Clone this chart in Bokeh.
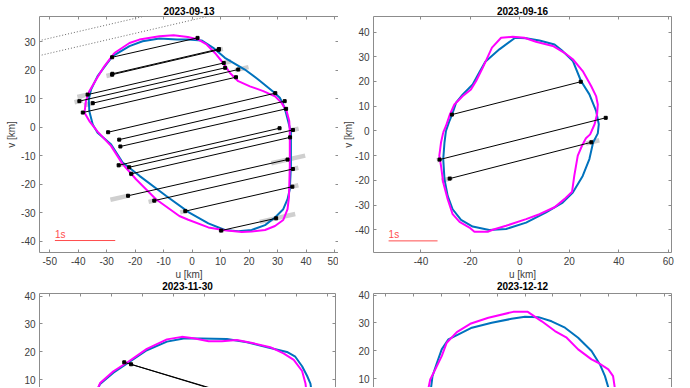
import numpy as np
from bokeh.plotting import figure
from bokeh.layouts import column, row
from bokeh.models import Range1d, LinearAxis, FixedTicker, Label
from bokeh.embed import file_html
from bokeh.resources import INLINE

# ---------------- data ----------------
titles = ["2023-09-13", "2023-09-16", "2023-11-30", "2023-12-12"]
x_axis_label = "u [km]"
y_axis_label = "v [km]"
scale_label = "1s"

# ---- panel 1 : 2023-09-13 ----
p1_xticks = [-50, -40, -30, -20, -10, 0, 10, 20, 30, 40, 50]
p1_xtick_labels = ["-50", "-40", "-30", "-20", "-10", "0", "10", "20", "30", "40", "50"]
p1_yticks = [-40, -30, -20, -10, 0, 10, 20, 30]
p1_ytick_labels = ["-40", "-30", "-20", "-10", "0", "10", "20", "30"]
p1_blue_u = [-27.9, -22.0, -17.4, -11.5, -5.3, -1.35, 3.3, 7.4, 11.5, 18.5, 23.2, 28.5, 30.8, 32.0, 32.8,
             33.7, 34.7, 34.7, 34.3, 33.5, 32.0, 29.1, 25.6, 20.9, 16.2, 11.5, 5.7, -1.0, -9.2, -18.5,
             -24.4, -28.5, -33.2, -34.9, -36.1, -36.3, -35.5, -33.2, -30.2, -27.9]
p1_blue_v = [25.0, 28.5, 30.2, 31.2, 30.8, 30.8, 30.5, 27.9, 24.4, 20.3, 16.8, 12.5, 10.4, 8.0, 5.7,
             2.2, -1.8, -13.5, -21.7, -25.2, -28.7, -31.6, -34.3, -36.0, -36.4, -36.0, -33.7, -29.9, -24.0, -17.0,
             -12.3, -5.9, -1.9, 1.0, 5.7, 9.8, 13.3, 18.0, 22.0, 25.0]
p1_mag_u = [-27.3, -22.0, -18.5, -11.5, -6.5, -1.5, 2.2, 5.1, 8.0, 10.4, 13.3, 16.2, 20.3, 25.0, 29.1,
            31.4, 33.2, 34.1, 34.3, 34.3, 34.0, 33.5, 32.0, 29.1, 25.6, 20.9, 17.4, 11.5, 5.7, -1.35,
            -4.5, -12.7, -19.7, -24.4, -28.5, -33.2, -36.1, -37.8, -37.3, -36.1, -33.7, -30.8, -27.3]
p1_mag_v = [26.1, 29.6, 30.8, 32.0, 32.3, 31.7, 30.8, 29.1, 26.1, 23.2, 19.1, 16.2, 14.4, 12.7, 10.9,
            8.6, 5.7, 2.2, -1.3, -13.5, -24.6, -28.7, -32.5, -34.6, -36.0, -36.5, -36.7, -36.1, -35.1, -32.4,
            -31.1, -25.2, -18.2, -12.9, -6.5, -1.5, 2.2, 5.1, 9.2, 12.7, 16.8, 21.5, 26.1]
p1_chord_u1 = [-28.1, -28.1, -28.0, -36.7, -39.6, -34.9, -38.4, -29.5, -25.6, -25.2, -25.8, -22.1, -21.4,
               -22.5, -13.3, -2.4, 10.2]
p1_chord_v1 = [24.6, 18.5, 18.8, 11.5, 9.2, 8.5, 5.2, -1.7, -4.3, -6.7, -13.3, -14.0, -16.3,
               -24.0, -25.7, -29.4, -36.2]
p1_chord_u2 = [1.9, 9.3, 9.4, 11.1, 11.6, 16.2, 15.4, 29.2, 32.5, 33.0, 30.7, 35.4, 34.4,
               33.5, 35.4, 35.2, 29.5]
p1_chord_v2 = [31.4, 27.2, 27.5, 22.6, 20.9, 20.3, 17.6, 12.0, 9.2, 6.5, -0.3, -0.9, -3.5,
               -11.3, -14.6, -20.8, -31.9]
p1_err_chord = [1, 1, 3, 3, 4, 5, 5, 11, 13, 14, 15, 16, 13, 14, 15, 16, 10, 12]
p1_err_u1 = [-30.1, 8.7, -40.3, 11.05, -41.3, -38.0, 15.1, 34.2, 27.8, 34.8, 34.4, 23.8, -28.7, -15.3, -4.2, 9.3, -26.4, -22.0]
p1_err_u2 = [-27.5, 10.8, -36.8, 13.7, -38.5, -34.6, 19.8, 37.4, 39.7, 37.3, 37.3, 36.2, -22.3, -12.3, -1.6, 11.1, -24.4, -20.5]
p1_neg_u1 = [-60.0, -60.0]
p1_neg_v1 = [28.96, 23.7]
p1_neg_u2 = [0.0, 20.0]
p1_neg_v2 = [42.9, 42.3]
p1_scale_u = [-48.2, -27.0]
p1_scale_v = -39.7

# ---- panel 2 : 2023-09-16 ----
p2_xticks = [-40, -20, 0, 20, 40, 60]
p2_xtick_labels = ["-40", "-20", "0", "20", "40", "60"]
p2_yticks = [-40, -30, -20, -10, 0, 10, 20, 30, 40]
p2_ytick_labels = ["-40", "-30", "-20", "-10", "0", "10", "20", "30", "40"]
p2_blue_u = [-29.9, -28.5, -27.4, -25.8, -23.1, -19.1, -16.5, -14.0, -8.3, -1.9, 2.5, 7.9, 14.0, 17.3, 21.4,
             24.7, 28.1, 30.8, 31.9, 31.5, 29.6, 28.1, 25.4, 21.4, 17.3, 10.6, 2.5, -5.6, -12.4, -19.1,
             -23.8, -27.2, -29.2, -30.5, -31.0, -30.5, -29.9]
p2_blue_v = [0.0, 4.0, 6.7, 11.4, 14.8, 18.8, 23.5, 28.0, 33.0, 37.7, 37.5, 36.6, 35.0, 32.3, 28.3,
             20.2, 14.8, 8.1, 2.7, -1.0, -4.7, -11.4, -18.2, -24.9, -29.0, -33.0, -37.1, -39.7, -40.1, -38.7,
             -36.0, -31.7, -26.3, -19.5, -11.4, -4.7, 0.0]
p2_mag_u = [-31.0, -29.9, -28.3, -26.5, -23.1, -19.8, -17.7, -15.0, -11.3, -7.6, -2.9, 1.8, 6.5, 13.3, 18.0,
            21.4, 25.4, 28.8, 30.8, 31.5, 31.2, 30.2, 28.4, 26.7, 25.1, 23.4, 22.0, 21.1, 18.0, 14.0,
            7.9, 2.5, -5.6, -11.0, -13.0, -18.4, -20.4, -24.4, -27.2, -29.2, -31.0, -31.9, -32.6, -31.9, -31.0]
p2_mag_v = [-0.6, 2.0, 6.7, 10.7, 14.1, 16.8, 20.2, 25.6, 33.7, 37.7, 38.1, 37.7, 36.1, 34.4, 31.6,
            29.0, 24.2, 18.2, 14.1, 10.7, 6.7, 2.7, -1.4, -3.0, -6.0, -10.0, -18.1, -24.6, -27.6, -30.9,
            -33.7, -35.7, -38.4, -40.0, -40.8, -40.8, -39.1, -36.8, -33.7, -27.6, -20.9, -14.1, -10.1, -4.7, -0.6]
p2_chord_u1 = [-27.5, -32.5, -28.4]
p2_chord_v1 = [6.6, -11.6, -19.3]
p2_chord_u2 = [24.6, 34.7, 28.9]
p2_chord_v2 = [19.9, 5.3, -4.6]
p2_err_chord = [2, 2, 1]
p2_err_u1 = [-31.7, 26.7, -33.6]
p2_err_u2 = [-27.3, 32.1, -31.6]
p2_scale_u = [-53.1, -33.3]
p2_scale_v = -44.5

# ---- panel 3 : 2023-11-30 (upper part) ----
p3_xticks = [-50, -40, -30, -20, -10, 0, 10, 20, 30, 40]
p3_yticks = [-40, -30, -20, -10, 0, 10, 20, 30, 40]
p3_ytick_labels = ["-40", "-30", "-20", "-10", "0", "10", "20", "30", "40"]
p3_blue_u = [-35.5, -33.6, -29.3, -23.9, -18.5, -12.0, -6.6, -1.2, 7.4, 13.9, 20.4, 26.8, 29.5, 31.7, 33.3, 34.4, 35.0]
p3_blue_v = [4.0, 8.6, 12.6, 16.6, 20.6, 23.7, 24.8, 24.8, 24.6, 23.5, 21.7, 20.0, 18.3, 14.9, 11.5, 8.7, 4.0]
p3_mag_u = [-35.5, -33.6, -29.3, -24.4, -18.5, -12.0, -7.2, -3.4, 1.5, 5.8, 10.6, 16.0, 21.4, 25.7, 29.0, 31.7, 32.8, 33.3]
p3_mag_v = [4.0, 8.9, 13.1, 16.6, 21.1, 24.5, 25.4, 24.9, 23.8, 23.8, 24.3, 23.1, 21.7, 19.5, 17.2, 13.2, 8.7, 4.0]
p3_chord_u1 = [-25.8, -23.6]
p3_chord_v1 = [16.3, 15.6]
p3_chord_u2 = [18.0, 20.0]
p3_chord_v2 = [1.6, 1.2]

# ---- panel 4 : 2023-12-12 (upper part) ----
p4_xticks = [-50, -40, -30, -20, -10, 0, 10, 20, 30, 40, 50]
p4_yticks = [-40, -30, -20, -10, 0, 10, 20, 30, 40]
p4_ytick_labels = ["-40", "-30", "-20", "-10", "0", "10", "20", "30", "40"]
p4_blue_u = [-34.0, -33.6, -33.1, -31.5, -29.8, -27.4, -23.8, -19.0, -11.9, -4.8, 0.0, 4.8, 9.5, 14.3, 19.0,
             23.8, 26.8, 28.6, 29.8, 30.4]
p4_blue_v = [3.0, 6.8, 10.9, 15.7, 20.5, 24.1, 25.9, 28.3, 30.1, 31.5, 32.2, 32.1, 30.6, 28.3, 24.7,
             19.9, 15.1, 10.9, 6.8, 3.0]
p4_mag_u = [-34.8, -34.5, -33.9, -32.1, -29.8, -28.0, -24.4, -19.6, -13.1, -4.2, 1.0, 6.0, 10.7, 14.9, 19.0,
            23.8, 26.2, 29.8, 31.5, 32.1, 32.3]
p4_mag_v = [3.0, 6.8, 9.7, 13.3, 18.1, 22.9, 26.7, 29.7, 31.9, 34.0, 34.0, 30.6, 27.1, 24.7, 20.5,
            16.9, 15.7, 13.3, 10.9, 6.8, 3.0]

# ---------------- styling ----------------
FONT = "Liberation Sans"
AX_COL = "#8c8c8c"
LAB_COL = "#404040"
BLUE = "#0072BD"
MAGENTA = "#FF00FF"
ERR_COL = "#cfcfcf"
RED = "#ff4d4d"


def style_axis(ax, show_labels=True, tick_labels=None, label_standoff=0):
    ax.axis_line_color = AX_COL
    ax.axis_line_width = 1
    ax.major_tick_line_color = AX_COL
    ax.major_tick_in = 3
    ax.major_tick_out = 0
    ax.minor_tick_line_color = None
    ax.major_label_text_font = FONT
    ax.axis_label_text_font = FONT
    ax.axis_label_text_font_style = "normal"
    ax.axis_label_text_color = LAB_COL
    ax.axis_label_text_font_size = "10px"
    if show_labels:
        ax.major_label_text_color = LAB_COL
        ax.major_label_text_font_size = "10px"
        ax.major_label_standoff = 4
        ax.axis_label_standoff = label_standoff
        if tick_labels is not None:
            ax.major_label_overrides = dict(zip(ax.ticker.ticks, tick_labels))
    else:
        ax.major_label_text_font_size = "1px"
        ax.major_label_text_alpha = 0
        ax.major_label_standoff = 0


def make_panel(title, xr, yr, xticks, yticks, ylabels, fw, fh, bl, br, bt,
               xlabels=None, standoff=2, ylab_standoff=0):
    full = xlabels is not None
    p = figure(frame_width=fw, frame_height=fh, title=title,
               x_range=Range1d(*xr), y_range=Range1d(*yr),
               x_axis_location=None, y_axis_location=None,
               min_border_left=bl, min_border_right=br, min_border_top=bt,
               min_border_bottom=0,
               output_backend="svg", toolbar_location=None)
    p.grid.visible = False
    p.outline_line_color = None
    p.background_fill_color = "white"
    p.border_fill_color = "white" if full else None
    p.title.align = "center"
    p.title.text_font = FONT
    p.title.text_font_style = "bold"
    p.title.text_font_size = "10px"
    p.title.text_color = "black"
    p.title.standoff = standoff

    left = LinearAxis(ticker=FixedTicker(ticks=yticks), axis_label=y_axis_label if full else None)
    style_axis(left, True, ylabels, ylab_standoff)
    p.add_layout(left, "left")
    right = LinearAxis(ticker=FixedTicker(ticks=yticks))
    style_axis(right, False)
    p.add_layout(right, "right")
    top = LinearAxis(ticker=FixedTicker(ticks=xticks))
    style_axis(top, False)
    p.add_layout(top, "above")
    if full:
        bottom = LinearAxis(ticker=FixedTicker(ticks=xticks), axis_label=x_axis_label)
        style_axis(bottom, True, xlabels, 1)
        p.add_layout(bottom, "below")
    return p


def draw_errors(p, u1, v1, u2, v2, eidx, eu1, eu2):
    u1 = np.asarray(u1); v1 = np.asarray(v1); u2 = np.asarray(u2); v2 = np.asarray(v2)
    eidx = np.asarray(eidx)
    slope = (v2 - v1) / (u2 - u1)
    a = np.asarray(eu1); b = np.asarray(eu2)
    va = v1[eidx] + (a - u1[eidx]) * slope[eidx]
    vb = v1[eidx] + (b - u1[eidx]) * slope[eidx]
    p.segment(a, va, b, vb, line_color=ERR_COL, line_width=4.5)


def draw_chord_lines(p, u1, v1, u2, v2):
    p.segment(u1, v1, u2, v2, line_color="black", line_width=1)
    p.scatter(list(u1) + list(u2), list(v1) + list(v2), marker="square",
              size=3, color="black")


def scale_bar(p, su, sv):
    p.line(su, [sv, sv], line_color=RED, line_width=1)
    p.add_layout(Label(x=su[0], y=sv, y_offset=1, text=scale_label, text_align="left",
                       text_baseline="bottom", text_font=FONT, text_font_size="10px",
                       text_color=RED))


# ---- panel 1 ----
p1 = make_panel(titles[0], (-53.6, 51.4), (-43.9, 38.9), p1_xticks, p1_yticks, p1_ytick_labels,
                299, 236, 39, 0, 16, xlabels=p1_xtick_labels, standoff=3, ylab_standoff=1)
p1.segment(p1_neg_u1, p1_neg_v1, p1_neg_u2, p1_neg_v2, line_color="#444444", line_width=0.8,
           line_dash="1 2")
draw_errors(p1, p1_chord_u1, p1_chord_v1, p1_chord_u2, p1_chord_v2, p1_err_chord, p1_err_u1, p1_err_u2)
p1.line(p1_blue_u, p1_blue_v, line_color=BLUE, line_width=2)
p1.line(p1_mag_u, p1_mag_v, line_color=MAGENTA, line_width=2)
draw_chord_lines(p1, p1_chord_u1, p1_chord_v1, p1_chord_u2, p1_chord_v2)
scale_bar(p1, p1_scale_u, p1_scale_v)

# ---- panel 2 ----
p2 = make_panel(titles[1], (-59.2, 61.3), (-49.2, 46.3), p2_xticks, p2_yticks, p2_ytick_labels,
                298, 236, 35, 10, 16, xlabels=p2_xtick_labels, standoff=3, ylab_standoff=-2)
draw_errors(p2, p2_chord_u1, p2_chord_v1, p2_chord_u2, p2_chord_v2, p2_err_chord, p2_err_u1, p2_err_u2)
p2.line(p2_blue_u, p2_blue_v, line_color=BLUE, line_width=2)
p2.line(p2_mag_u, p2_mag_v, line_color=MAGENTA, line_width=2)
draw_chord_lines(p2, p2_chord_u1, p2_chord_v1, p2_chord_u2, p2_chord_v2)
scale_bar(p2, p2_scale_u, p2_scale_v)

# ---- panel 3 ----
p3 = make_panel(titles[2], (-53.2, 42.5), (7.3, 40.9), p3_xticks, p3_yticks, p3_ytick_labels,
                296, 94, 39, 3, 13, standoff=8)
p3.line(p3_blue_u, p3_blue_v, line_color=BLUE, line_width=2)
p3.line(p3_mag_u, p3_mag_v, line_color=MAGENTA, line_width=2)
draw_chord_lines(p3, p3_chord_u1, p3_chord_v1, p3_chord_u2, p3_chord_v2)

# ---- panel 4 ----
p4 = make_panel(titles[3], (-54.2, 52.4), (6.8, 40.6), p4_xticks, p4_yticks, p4_ytick_labels,
                298, 94, 35, 10, 13, standoff=8)
p4.line(p4_blue_u, p4_blue_v, line_color=BLUE, line_width=2)
p4.line(p4_mag_u, p4_mag_v, line_color=MAGENTA, line_width=2)

layout = column(row(p1, p2), row(p3, p4, margin=(-7, 0, 0, 0)))

with open("out.html", "w") as f:
    f.write(file_html(layout, INLINE))
